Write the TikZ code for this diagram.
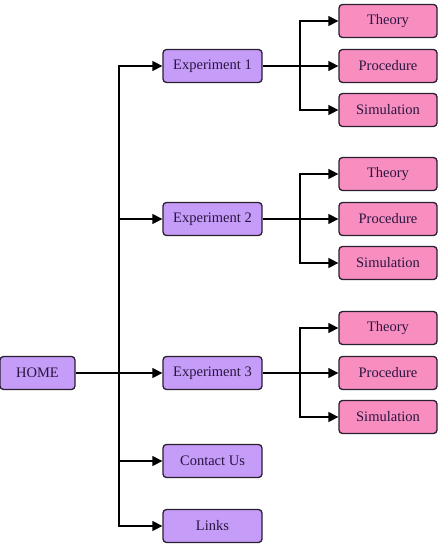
\documentclass[tikz,border=0pt]{standalone}
\usepackage{fontspec}
\setmainfont{Liberation Serif}
\newfontfamily\tnr{Liberation Serif}
\usetikzlibrary{arrows.meta}
\definecolor{purp}{HTML}{C59CF7}
\definecolor{pnk}{HTML}{F88EC0}
\definecolor{edge}{HTML}{2A1F30}
\definecolor{txt}{HTML}{2A1540}
\tikzset{
  box/.style={draw=edge, line width=1.3pt, rounded corners=3.5pt, minimum height=33pt, inner sep=0pt, text=txt, font=\tnr\fontsize{14.5}{16}\selectfont},
  mainbox/.style={box, fill=purp, minimum width=99pt},
  subbox/.style={box, fill=pnk, minimum width=98pt},
  homebox/.style={box, fill=purp, minimum width=75pt},
  conn/.style={line width=1.3pt, black},
  arr/.style={conn, -{Triangle[length=10pt,width=10pt]}}
}
\begin{document}
\begin{tikzpicture}[x=1pt,y=-1pt]
\useasboundingbox (0,0) rectangle (441,553);
\node[homebox] (home) at (37.5,373) {HOME};
\node[mainbox] (e1) at (212.5,66) {Experiment 1};
\node[mainbox] (e2) at (212.5,219) {Experiment 2};
\node[mainbox] (e3) at (212.5,373) {Experiment 3};
\node[mainbox] (cu) at (212.5,461) {Contact Us};
\node[mainbox] (li) at (212.5,526) {Links};
\coordinate (t) at (119,373);
\draw[conn] (home) -- (t);
\foreach \n in {e1,e2,e3,cu,li}{
  \draw[arr] (t) |- (\n);
}
\foreach \e/\y in {1/0,2/153,3/307}{
  \node[subbox] (th\e) at (388,21+\y) {Theory};
  \node[subbox] (pr\e) at (388,66+\y) {Procedure};
  \node[subbox] (si\e) at (388,110+\y) {Simulation};
  \coordinate (b\e) at (300,66+\y);
  \draw[conn] (e\e.east) -- (b\e);
  \draw[arr] (b\e) |- (th\e);
  \draw[arr] (b\e) -- (pr\e.west);
  \draw[arr] (b\e) |- (si\e);
}
\end{tikzpicture}
\end{document}
